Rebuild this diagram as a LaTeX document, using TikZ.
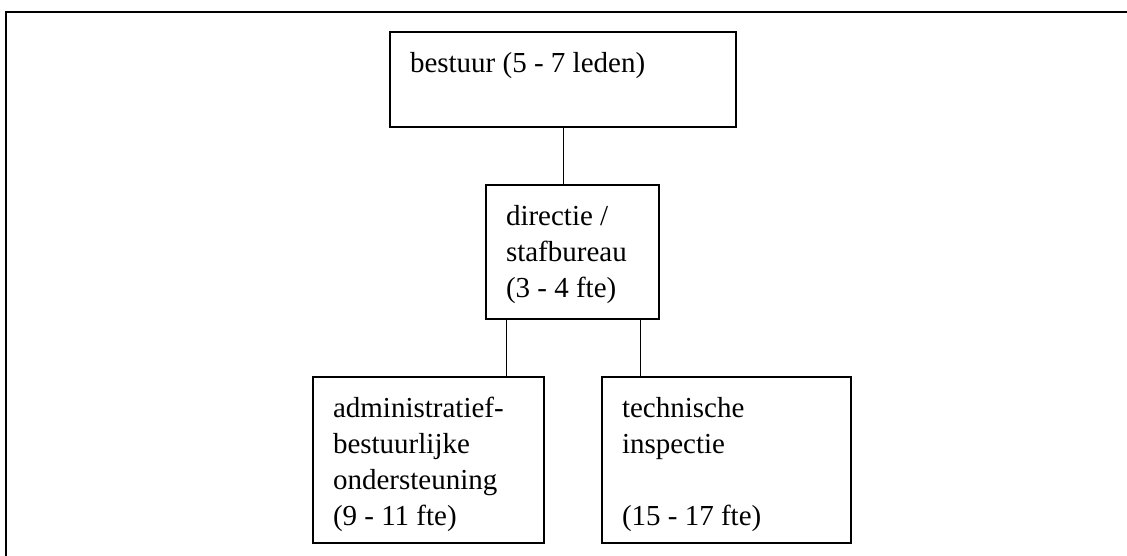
\documentclass[tikz,border=0pt]{standalone}
\usepackage{fontspec}
\setmainfont{Liberation Serif}
\tikzstyle{unit}=[draw,line width=1.6pt,inner xsep=20pt,inner ysep=15pt,outer sep=0pt,anchor=north west,font=\fontsize{29pt}{36pt}\selectfont]
\tikzstyle{link}=[draw,line width=1pt]
\tikzstyle{frame}=[draw,line width=1.6pt]
\newcommand{\unittext}[3]{\parbox[t][#2][t]{#1}{\raggedright\strut #3}}
\begin{document}
\begin{tikzpicture}[x=1pt,y=-1pt]
\clip (0,0) rectangle (1127,556);
\coordinate (frameNE) at (1140,12);
\coordinate (frameNW) at (6,12);
\coordinate (frameSW) at (6,570);
\path[frame] (frameNE) -- (frameNW) -- (frameSW);
\foreach \pos/\name/\w/\h/\txt in {{(390,32)/bestuur/306/65/{bestuur (5 - 7 leden)}},
                                   {(486,185)/directie/133/104/{directie /\\stafbureau\\(3 - 4 fte)}},
                                   {(313,377)/admin/191/136/{administratief-\\bestuurlijke\\ondersteuning\\(9 - 11 fte)}},
                                   {(602,377)/techniek/209/136/{technische\\inspectie\\\mbox{}\\(15 - 17 fte)}}}{
  \node[unit] (\name) at \pos {\unittext{\w pt}{\h pt}{\txt}};
}
\path[link] (bestuur.south) -- (bestuur.south |- directie.north);
\foreach \dx/\dest in {20/admin, 154/techniek}{
  \coordinate (tap) at ([xshift=\dx pt]directie.south west);
  \path[link] (tap) -- (tap |- \dest.north);
}
\end{tikzpicture}
\end{document}
